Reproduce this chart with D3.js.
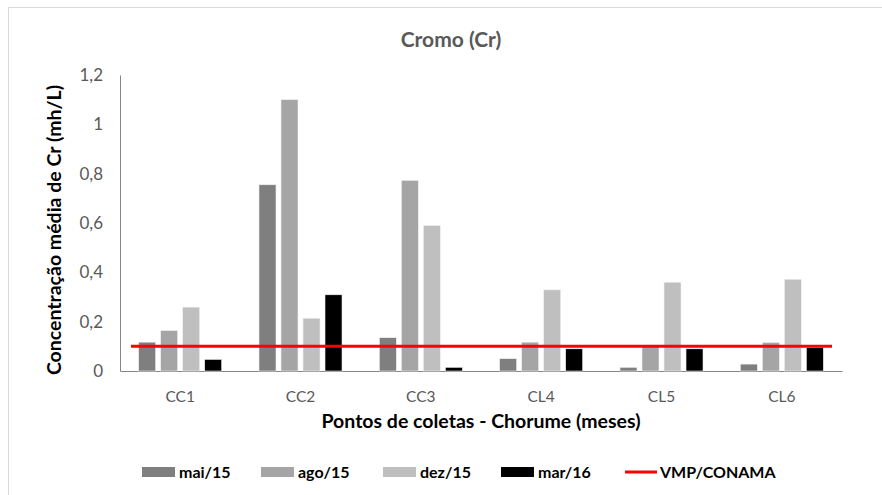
<!DOCTYPE html>
<html>
<head>
<meta charset="utf-8">
<script src="https://cdn.jsdelivr.net/npm/d3@7"></script>
<style>
  body { margin: 0; background: #fff; }
  text { font-family: Lato, "Open Sans", sans-serif; }
</style>
</head>
<body>
<script>
// ----- Data -----
const categories = ["CC1", "CC2", "CC3", "CL4", "CL5", "CL6"];
const seriesNames = ["mai/15", "ago/15", "dez/15", "mar/16"];
const mai15 = [0.117, 0.755, 0.135, 0.050, 0.015, 0.028];
const ago15 = [0.164, 1.100, 0.773, 0.117, 0.105, 0.116];
const dez15 = [0.259, 0.214, 0.590, 0.329, 0.360, 0.372];
const mar16 = [0.047, 0.309, 0.015, 0.090, 0.090, 0.095];
const vmpConama = 0.1;
const yTicks = [0, 0.2, 0.4, 0.6, 0.8, 1, 1.2];

const seriesColors = ["#7f7f7f", "#a5a5a5", "#bfbfbf", "#000000"];
const seriesValues = [mai15, ago15, dez15, mar16];

// ----- Layout -----
const W = 882, H = 495;
const plotLeft = 120, plotRight = 842, plotTop = 75, plotBottom = 371;
const textGray = "#595959";

const svg = d3.select("body").append("svg")
    .attr("width", W)
    .attr("height", H);

// chart border
svg.append("rect")
    .attr("x", 8.5).attr("y", 7.5)
    .attr("width", W).attr("height", H)
    .attr("fill", "#fff")
    .attr("stroke", "#d9d9d9");

// ----- Scales -----
const x0 = d3.scaleBand()
    .domain(categories)
    .range([plotLeft, plotRight])
    .paddingInner(0.31)
    .paddingOuter(0.155);
const x1 = d3.scaleBand()
    .domain(seriesNames)
    .range([0, x0.bandwidth()])
    .paddingInner(0.227);
const y = d3.scaleLinear()
    .domain([0, 1.2])
    .range([plotBottom, plotTop]);

// ----- Title -----
svg.append("text")
    .text("Cromo (Cr)")
    .attr("x", 451).attr("y", 47)
    .attr("text-anchor", "middle")
    .attr("fill", textGray)
    .style("font-size", "21px")
    .style("font-weight", "bold");

// ----- Axes -----
const yAxis = d3.axisLeft(y)
    .tickValues(yTicks)
    .tickSize(0)
    .tickPadding(17)
    .tickFormat(d => d3.format("~g")(d).replace(".", ","));
const gy = svg.append("g")
    .attr("transform", `translate(${plotLeft},0)`)
    .call(yAxis);
gy.select(".domain").attr("stroke", "#868686");
gy.selectAll("text").attr("fill", textGray).style("font-size", "17px")
    .attr("font-family", "Lato, sans-serif");

const xAxis = d3.axisBottom(x0).tickSize(0).tickPadding(20);
const gx = svg.append("g")
    .attr("transform", `translate(0,${plotBottom})`)
    .call(xAxis);
gx.select(".domain").attr("stroke", "#868686");
gx.selectAll("text").attr("fill", textGray).style("font-size", "15.5px")
    .attr("font-family", "Lato, sans-serif");

// ----- Bars -----
const groups = svg.append("g").selectAll("g")
    .data(categories)
    .enter()
    .append("g")
        .attr("transform", c => `translate(${x0(c)},0)`);

groups.selectAll("rect")
    .data((c, i) => seriesNames.map((s, k) => ({ s, k, v: seriesValues[k][i] })))
    .enter()
    .append("rect")
        .attr("x", d => x1(d.s))
        .attr("y", d => y(d.v))
        .attr("width", x1.bandwidth())
        .attr("height", d => y(0) - y(d.v))
        .attr("fill", d => seriesColors[d.k])
        .attr("stroke", "#f2f2f2")
        .attr("stroke-width", 0.6);

// ----- Reference line -----
svg.append("line")
    .attr("x1", plotLeft + 11)
    .attr("x2", plotRight - 10)
    .attr("y1", y(vmpConama))
    .attr("y2", y(vmpConama))
    .attr("stroke", "#ff0000")
    .attr("stroke-width", 3);

// ----- Axis titles -----
svg.append("text")
    .text("Pontos de coletas - Chorume (meses)")
    .attr("x", (plotLeft + plotRight) / 2).attr("y", 428)
    .attr("text-anchor", "middle")
    .style("font-size", "19.5px")
    .style("font-weight", "bold");

svg.append("text")
    .text("Concentração média de Cr (mh/L)")
    .attr("transform", `translate(61, ${(plotTop + plotBottom) / 2 + 7}) rotate(-90)`)
    .attr("text-anchor", "middle")
    .style("font-size", "19.5px")
    .style("font-weight", "bold");

// ----- Legend -----
const legendX = [142, 261, 383, 501];
const legend = svg.append("g");
seriesNames.forEach((s, k) => {
    legend.append("rect")
        .attr("x", legendX[k]).attr("y", 467)
        .attr("width", 33).attr("height", 10)
        .attr("fill", seriesColors[k]);
    legend.append("text")
        .text(s)
        .attr("x", legendX[k] + 37).attr("y", 478)
        .style("font-size", "16px")
        .style("font-weight", "bold");
});
legend.append("line")
    .attr("x1", 625).attr("x2", 657)
    .attr("y1", 472).attr("y2", 472)
    .attr("stroke", "#ff0000")
    .attr("stroke-width", 3);
legend.append("text")
    .text("VMP/CONAMA")
    .attr("x", 660).attr("y", 478)
    .style("font-size", "16px")
    .style("font-weight", "bold");
</script>
</body>
</html>
